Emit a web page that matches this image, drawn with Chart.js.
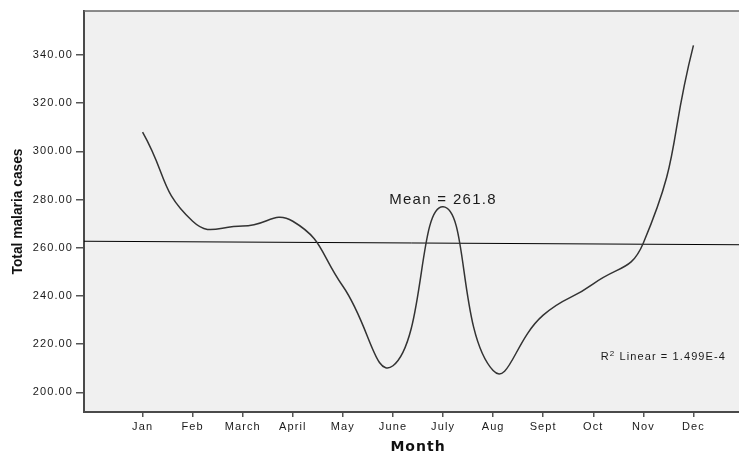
<!DOCTYPE html>
<html>
<head>
<meta charset="utf-8">
<script src="https://cdn.jsdelivr.net/npm/chart.js@4.4.1/dist/chart.umd.min.js"></script>
<style>
  html, body { margin: 0; padding: 0; background: #fff; }
  canvas { display: block; }
</style>
</head>
<body>
<canvas id="chart" width="739" height="453"></canvas>
<script>
// monthly totals
const months = ["Jan", "Feb", "March", "April", "May", "June", "July", "Aug", "Sept", "Oct", "Nov", "Dec"];
const cases = [308, 271, 269, 271, 244, 211, 277, 209, 232, 245, 262, 344];
const yTicks = [200, 220, 240, 260, 280, 300, 320, 340];

// linear fit line (value at left and right edge of the plot)
const fitX = [-1.17, 11.91];
const fitY = [262.7, 261.25];

const meanText = "Mean = 261.8";
const r2Text = "1.499E-4";

const xRange = [-1.17, 11.91];
const yRange = [191.8, 358.3];

const TICK_FONT = "Liberation Sans, Arial, sans-serif";

// background, frame and the loose texts
const decor = {
  id: "decor",
  beforeDraw(chart) {
    const { ctx, chartArea: a } = chart;
    ctx.save();
    ctx.fillStyle = "#f0f0f0";
    ctx.fillRect(a.left, a.top, a.right - a.left, a.bottom - a.top);
    ctx.restore();
    ctx.letterSpacing = "1.1px";
  },
  afterDraw(chart) {
    const { ctx, chartArea: a } = chart;
    const xs = chart.scales.x, ys = chart.scales.y;
    ctx.save();
    ctx.letterSpacing = "0px";
    // top frame line
    ctx.strokeStyle = "#666";
    ctx.lineWidth = 1.5;
    ctx.beginPath();
    ctx.moveTo(a.left, a.top);
    ctx.lineTo(a.right, a.top);
    ctx.stroke();

    ctx.fillStyle = "#1a1a1a";
    // Mean label
    ctx.font = "15px " + TICK_FONT;
    ctx.letterSpacing = "1.3px";
    ctx.textAlign = "center";
    ctx.textBaseline = "middle";
    ctx.fillText(meanText, xs.getPixelForValue(6), ys.getPixelForValue(280));

    // R2 label
    ctx.letterSpacing = "1.1px";
    ctx.textAlign = "left";
    ctx.textBaseline = "alphabetic";
    let x0 = xs.getPixelForValue(9.15);
    const yb = ys.getPixelForValue(215) + 4;
    ctx.font = "11px " + TICK_FONT;
    ctx.fillText("R", x0, yb);
    x0 += ctx.measureText("R").width;
    ctx.font = "8px " + TICK_FONT;
    ctx.fillText("2", x0, yb - 4);
    x0 += ctx.measureText("2").width;
    ctx.font = "11px " + TICK_FONT;
    ctx.fillText(" Linear = " + r2Text, x0, yb);

    // x title
    ctx.font = "bold 14px DejaVu Sans, Verdana, sans-serif";
    ctx.letterSpacing = "1px";
    ctx.textAlign = "center";
    ctx.textBaseline = "middle";
    ctx.fillStyle = "#111";
    ctx.fillText("Month", xs.getPixelForValue(5.5), 447);

    // y title, squeezed like a narrow font
    ctx.letterSpacing = "0px";
    ctx.font = "bold 15px Liberation Sans, Arial, sans-serif";
    const label = "Total malaria cases";
    const w = ctx.measureText(label).width;
    ctx.translate(18, (a.top + a.bottom) / 2);
    ctx.rotate(-Math.PI / 2);
    ctx.scale(126 / w, 1);
    ctx.fillText(label, 0, 0);
    ctx.restore();
  }
};

new Chart(document.getElementById("chart"), {
  type: "line",
  data: {
    datasets: [
      {
        data: cases.map((v, i) => ({ x: i, y: v })),
        borderColor: "#333",
        borderWidth: 1.5,
        pointRadius: 0,
        tension: 0.5,
        fill: false
      },
      {
        data: fitX.map((v, i) => ({ x: v, y: fitY[i] })),
        borderColor: "#000",
        borderWidth: 1,
        pointRadius: 0,
        tension: 0,
        fill: false
      }
    ]
  },
  options: {
    responsive: false,
    animation: false,
    devicePixelRatio: 1,
    layout: { padding: { top: 11, right: 0, left: 0, bottom: 0 } },
    plugins: { legend: { display: false }, tooltip: { enabled: false } },
    scales: {
      x: {
        type: "linear",
        min: xRange[0],
        max: xRange[1],
        afterBuildTicks: s => { s.ticks = months.map((m, i) => ({ value: i })); },
        afterFit: s => { s.height = 41; },
        ticks: {
          callback: v => months[v],
          font: { family: TICK_FONT, size: 11 },
          color: "#1a1a1a",
          padding: 3,
          maxRotation: 0
        },
        grid: { drawOnChartArea: false, drawTicks: true, tickLength: 5, color: "#555", lineWidth: 1.5 },
        border: { display: true, color: "#4a4a4a", width: 2 }
      },
      y: {
        type: "linear",
        min: yRange[0],
        max: yRange[1],
        afterBuildTicks: s => { s.ticks = yTicks.map(v => ({ value: v })); },
        afterFit: s => { s.width = 84; },
        ticks: {
          callback: v => v.toFixed(2),
          font: { family: TICK_FONT, size: 11 },
          color: "#1a1a1a",
          padding: 3
        },
        grid: { drawOnChartArea: false, drawTicks: true, tickLength: 8, color: "#555", lineWidth: 1.5 },
        border: { display: true, color: "#4a4a4a", width: 2 }
      }
    }
  },
  plugins: [decor]
});
</script>
</body>
</html>
